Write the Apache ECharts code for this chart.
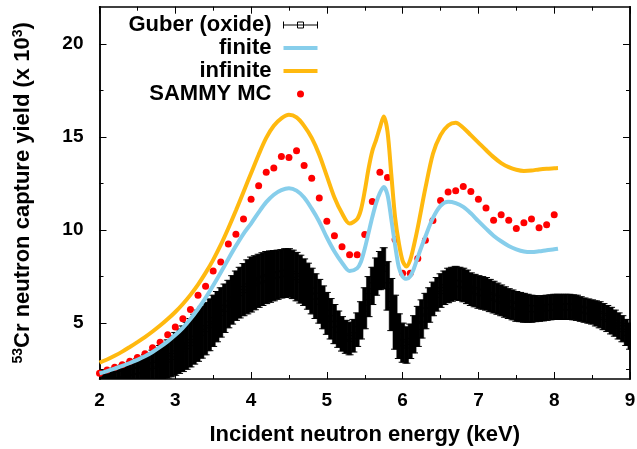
<!DOCTYPE html>
<html>
<head>
<meta charset="utf-8">
<script src="https://cdn.jsdelivr.net/npm/echarts@6/dist/echarts.min.js"></script>
<style>html,body{margin:0;padding:0;background:#fff}#c{width:637px;height:449px}</style>
</head>
<body>
<div id="c"></div>
<script>
// ---------- data ----------
// Guber (oxide) measurement: energy (keV), lower and upper ends of the error bars (x 10^3)
const guberE = [2.00,2.05,2.10,2.15,2.20,2.25,2.30,2.35,2.40,2.45,2.50,2.55,2.60,2.65,2.70,2.75,2.80,2.85,2.90,2.95,
3.00,3.05,3.10,3.15,3.20,3.25,3.30,3.35,3.40,3.45,3.50,3.55,3.60,3.65,3.70,3.75,3.80,3.85,3.90,3.95,
4.00,4.05,4.10,4.15,4.20,4.25,4.30,4.35,4.40,4.45,4.50,4.55,4.60,4.65,4.70,4.75,4.80,4.85,4.90,4.95,
5.00,5.05,5.10,5.15,5.20,5.25,5.30,5.35,5.40,5.45,5.50,5.55,5.60,5.65,5.70,5.75,5.80,5.85,5.90,5.95,
6.00,6.05,6.10,6.15,6.20,6.25,6.30,6.35,6.40,6.45,6.50,6.55,6.60,6.65,6.70,6.75,6.80,6.85,6.90,6.95,
7.00,7.05,7.10,7.15,7.20,7.25,7.30,7.35,7.40,7.45,7.50,7.55,7.60,7.65,7.70,7.75,7.80,7.85,7.90,7.95,
8.00,8.05,8.10,8.15,8.20,8.25,8.30,8.35,8.40,8.45,8.50,8.55,8.60,8.65,8.70,8.75,8.80,8.85,8.90,8.95,9.00];
const guberHi = [2.40,2.45,2.50,2.55,2.62,2.68,2.75,2.83,2.92,3.00,3.10,3.20,3.30,3.42,3.55,3.68,3.80,3.95,4.10,4.30,
4.50,4.68,4.85,5.05,5.25,5.48,5.70,5.90,6.10,6.30,6.50,6.70,6.90,7.10,7.30,7.55,7.80,8.00,8.20,8.40,
8.55,8.62,8.70,8.78,8.85,8.88,8.90,8.92,8.95,9.00,9.00,8.92,8.80,8.65,8.45,8.22,7.95,7.65,7.35,7.00,
6.65,6.32,6.00,5.65,5.35,5.15,5.05,5.20,5.55,6.15,6.90,7.50,8.00,8.50,8.85,9.05,8.30,7.40,6.50,5.50,
5.00,4.80,4.95,5.40,5.90,6.25,6.60,6.90,7.20,7.45,7.65,7.80,7.95,8.00,8.05,8.00,7.95,7.85,7.70,7.62,
7.55,7.50,7.45,7.35,7.25,7.15,7.05,6.95,6.85,6.78,6.70,6.65,6.60,6.55,6.50,6.48,6.45,6.48,6.50,6.52,
6.55,6.55,6.55,6.55,6.55,6.52,6.50,6.42,6.35,6.30,6.25,6.20,6.15,6.05,5.95,5.85,5.70,5.55,5.40,5.20,5.00];
const guberLo = [1.80,1.80,1.80,1.80,1.80,1.80,1.80,1.80,1.80,1.80,1.80,1.82,1.85,1.88,1.90,1.93,1.96,2.00,2.05,2.12,
2.20,2.30,2.40,2.52,2.65,2.80,2.95,3.12,3.30,3.52,3.75,4.00,4.25,4.50,4.75,4.95,5.15,5.28,5.40,5.50,
5.60,5.72,5.85,5.95,6.05,6.12,6.20,6.28,6.35,6.38,6.40,6.32,6.20,6.08,5.95,5.75,5.50,5.25,5.00,4.70,
4.40,4.15,3.90,3.70,3.50,3.38,3.30,3.45,3.75,4.15,4.70,5.35,6.00,6.50,6.80,6.85,5.70,4.60,3.60,3.10,
2.90,2.85,3.10,3.40,3.75,4.20,4.70,5.05,5.40,5.65,5.85,6.00,6.10,6.18,6.25,6.22,6.15,6.05,5.95,5.88,
5.80,5.75,5.70,5.62,5.55,5.48,5.40,5.32,5.25,5.18,5.10,5.08,5.05,5.05,5.05,5.08,5.10,5.12,5.15,5.18,
5.20,5.20,5.20,5.20,5.20,5.18,5.15,5.10,5.05,5.00,4.95,4.85,4.75,4.65,4.55,4.42,4.30,4.15,4.00,3.80,3.60];

// finite / infinite sample-thickness calculations
const curveE = [2.0,2.1,2.2,2.3,2.4,2.5,2.6,2.7,2.8,2.9,3.0,3.1,3.2,3.3,3.4,3.5,3.6,3.7,3.8,3.9,
4.0,4.1,4.2,4.3,4.4,4.5,4.6,4.7,4.8,4.9,5.0,5.1,5.2,5.3,5.4,
5.45,5.5,5.55,5.6,5.65,5.7,5.75,5.8,5.85,5.9,5.95,6.0,6.05,6.1,6.15,6.2,
6.3,6.4,6.5,6.6,6.7,6.8,6.9,7.0,7.1,7.2,7.3,7.4,7.5,7.6,7.7,7.8,7.9,8.0,8.05];
const finiteY = [2.30,2.42,2.56,2.70,2.86,3.03,3.22,3.45,3.72,4.02,4.36,4.75,5.22,5.76,6.36,7.02,7.72,8.45,9.15,9.80,
10.35,10.95,11.50,11.90,12.15,12.25,12.12,11.75,11.15,10.45,9.60,8.85,8.25,7.80,7.95,
8.30,9.00,9.85,10.70,11.45,12.00,12.32,11.90,10.60,9.20,8.00,7.50,7.38,7.52,7.95,8.55,
9.65,10.65,11.30,11.52,11.45,11.25,10.90,10.48,10.08,9.70,9.40,9.15,8.97,8.85,8.82,8.86,8.92,8.97,9.00];
const infiniteY = [2.88,3.05,3.25,3.47,3.72,3.98,4.25,4.55,4.87,5.22,5.60,6.03,6.52,7.07,7.70,8.40,9.20,10.10,11.05,12.05,
13.05,14.05,14.95,15.60,16.00,16.19,16.05,15.60,14.95,14.05,12.90,11.75,10.90,10.35,10.60,
11.10,12.10,13.30,14.25,14.85,15.50,16.10,15.30,13.00,10.70,9.30,8.35,8.04,8.40,9.20,10.15,
12.25,14.10,15.10,15.62,15.77,15.50,15.10,14.70,14.30,13.92,13.60,13.38,13.24,13.18,13.20,13.26,13.30,13.32,13.33];

// SAMMY Monte Carlo points
const sammyE = [2.0,2.1,2.2,2.3,2.4,2.5,2.6,2.7,2.8,2.9,3.0,3.1,3.2,3.3,3.4,3.5,3.6,3.7,3.8,3.9,
4.0,4.1,4.2,4.3,4.4,4.5,4.6,4.7,4.8,4.9,5.0,5.1,5.2,5.3,5.4,5.5,5.6,5.7,5.8,5.9,
6.0,6.1,6.2,6.3,6.4,6.5,6.6,6.7,6.8,6.9,7.0,7.1,7.2,7.3,7.4,7.5,7.6,7.7,7.8,7.9,8.0];
const sammyY = [2.31,2.48,2.63,2.77,2.95,3.15,3.36,3.68,3.97,4.38,4.80,5.23,5.74,6.50,6.98,7.80,8.29,9.25,9.78,10.60,
11.66,12.38,13.11,13.33,13.95,13.90,14.26,13.47,12.79,11.73,10.48,9.70,9.11,8.67,8.67,9.76,11.53,13.11,12.82,9.49,
7.68,7.68,8.47,9.46,10.51,11.59,12.04,12.11,12.34,12.07,11.66,11.18,10.53,10.83,10.53,10.08,10.40,10.60,10.13,10.28,10.82];

// axis ticks
const xTicksMajorInterval = 1;
const yMajorTicks = [5, 10, 15, 20];
const yMinorTicks = [2.5, 7.5, 12.5, 17.5];

// ---------- chart ----------
const FONT = "'Liberation Sans', Arial, sans-serif";
const chart = echarts.init(document.getElementById('c'), null, {renderer: 'canvas'});

const guberData = guberE.map((e, i) => [e, guberLo[i], guberHi[i]]);
const finiteData = curveE.map((e, i) => [e, finiteY[i]]);
const infiniteData = curveE.map((e, i) => [e, infiniteY[i]]);
const sammyData = sammyE.map((e, i) => [e, sammyY[i]]);

const BLUE = '#87ceeb', ORANGE = '#ffb90f', RED = '#ff0000';
const axisLineStyle = {color: '#000', width: 1.5};
const labelStyle = {color: '#000', fontSize: 19, fontWeight: 'bold', fontFamily: FONT};

function xAx(pos, withLabel) {
  return {
    type: 'value', min: 2, max: 9, interval: xTicksMajorInterval, position: pos,
    axisLine: {show: true, onZero: false, lineStyle: axisLineStyle},
    axisTick: {show: true, inside: true, length: 7, lineStyle: {color: '#000', width: 1}},
    minorTick: {show: true, splitNumber: 2, length: 4, lineStyle: {color: '#000', width: 1}},
    splitLine: {show: false}, minorSplitLine: {show: false},
    axisLabel: Object.assign({show: withLabel, margin: 12}, labelStyle),
    name: withLabel ? 'Incident neutron energy (keV)' : '',
    nameLocation: 'middle', nameGap: 45,
    nameTextStyle: {color: '#000', fontSize: 22, fontWeight: 'bold', fontFamily: FONT}
  };
}
function yAx(pos, ticks, len, withLabel) {
  const o = {
    type: 'value', min: 2, max: 22, position: pos,
    axisLine: {show: true, onZero: false, lineStyle: axisLineStyle},
    axisTick: {show: true, inside: true, length: len, customValues: ticks, lineStyle: {color: '#000', width: 1}},
    splitLine: {show: false},
    axisLabel: Object.assign({show: withLabel, margin: 16, customValues: ticks}, labelStyle)
  };
  if (withLabel) {
    o.name = '{sup|53}Cr neutron capture yield (x 10{sup|3})';
    o.nameLocation = 'middle';
    o.nameGap = 66;
    o.nameRotate = 90;
    o.nameTextStyle = {
      color: '#000', fontSize: 22, fontWeight: 'bold', fontFamily: FONT,
      rich: {sup: {fontSize: 14, fontWeight: 'bold', fontFamily: FONT, color: '#000', verticalAlign: 'top'}}
    };
  }
  return o;
}

const option = {
  animation: false,
  backgroundColor: '#fff',
  grid: {left: 99.5, right: 7, top: 6.7, bottom: 70, containLabel: false, outerBoundsMode: 'none'},
  xAxis: [xAx('bottom', true), xAx('top', false)],
  yAxis: [
    yAx('left', yMajorTicks, 7, true),
    yAx('left', yMinorTicks, 4, false),
    yAx('right', yMajorTicks, 7, false),
    yAx('right', yMinorTicks, 4, false)
  ],
  legend: {
    orient: 'vertical', right: 319, top: 14, align: 'right',
    itemWidth: 34, itemHeight: 7, itemGap: 1, padding: 0,
    selectedMode: false,
    textStyle: {color: '#000', fontSize: 22, fontWeight: 'bold', fontFamily: FONT, lineHeight: 20, padding: [0, 7, 0, 0]},
    data: [
      {name: 'Guber (oxide)', icon: 'path://M0,3.5L34,3.5M0,0L0,7M34,0L34,7M14,0.5L20,0.5L20,6.5L14,6.5Z',
       itemStyle: {color: 'rgba(255,255,255,0)', borderColor: '#000', borderWidth: 1}},
      {name: 'finite', icon: 'path://M0,0L34,0L34,4L0,4Z', itemStyle: {color: BLUE, borderWidth: 0}},
      {name: 'infinite', icon: 'path://M0,0L34,0L34,4L0,4Z', itemStyle: {color: ORANGE, borderWidth: 0}},
      {name: 'SAMMY MC', icon: 'circle', itemStyle: {color: RED}}
    ]
  },
  series: [
    {
      name: 'Guber (oxide)', type: 'custom', clip: true,
      itemStyle: {color: '#000'},
      data: guberData,
      encode: {x: 0, y: [1, 2]},
      renderItem: function (params, api) {
        const e = api.value(0), lo = api.value(1), hi = api.value(2);
        const pLo = api.coord([e, lo]), pHi = api.coord([e, hi]);
        const pC = api.coord([e, (lo + hi) / 2]);
        const cap = 4, bw = 4.2;
        return {
          type: 'group',
          children: [
            {type: 'polygon', shape: {points: [[pHi[0] - bw / 2, pHi[1]], [pHi[0] + bw / 2, pHi[1]], [pLo[0] + bw / 2, pLo[1]], [pLo[0] - bw / 2, pLo[1]]]},
             style: {fill: '#000', stroke: '#000', lineWidth: 0.5}},
            {type: 'polyline', shape: {points: [[pHi[0] - cap, pHi[1]], [pHi[0] + cap, pHi[1]]]}, style: {stroke: '#000', lineWidth: 1, fill: null}},
            {type: 'polyline', shape: {points: [[pLo[0] - cap, pLo[1]], [pLo[0] + cap, pLo[1]]]}, style: {stroke: '#000', lineWidth: 1, fill: null}},
            {type: 'rect', shape: {x: pC[0] - 3, y: pC[1] - 3, width: 6, height: 6}, style: {fill: null, stroke: '#000', lineWidth: 1}}
          ]
        };
      }
    },
    {
      name: 'finite', type: 'line', data: finiteData, symbol: 'none', smooth: 0.3,
      color: BLUE, lineStyle: {color: BLUE, width: 4}
    },
    {
      name: 'infinite', type: 'line', data: infiniteData, symbol: 'none', smooth: 0.3,
      color: ORANGE, lineStyle: {color: ORANGE, width: 4}
    },
    {
      name: 'SAMMY MC', type: 'scatter', data: sammyData, symbol: 'circle', symbolSize: 7,
      itemStyle: {color: RED, opacity: 1}
    }
  ]
};
chart.setOption(option);
</script>
</body>
</html>
